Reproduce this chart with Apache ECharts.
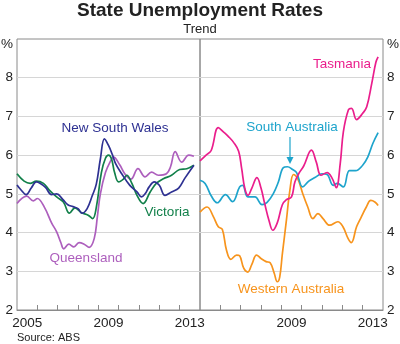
<!DOCTYPE html>
<html>
<head>
<meta charset="utf-8">
<script src="https://cdn.jsdelivr.net/npm/echarts@6/dist/echarts.min.js"></script>
<style>
  html, body { margin: 0; padding: 0; background: #fff; }
  #chart { width: 400px; height: 344px; }
</style>
</head>
<body>
<div id="chart"></div>
<script>
// State unemployment rates, trend, % (decimal years)
const leftLabelYears = [2005, 2009, 2013];
const rightLabelYears = [2009, 2013];
const yearTicks = [2006, 2007, 2008, 2009, 2010, 2011, 2012, 2013];

const nswData = [
  [2005.00, 5.23], [2005.20, 5.10], [2005.45, 4.98], [2005.70, 5.15], [2005.95, 5.31],
  [2006.15, 5.27], [2006.40, 5.17], [2006.70, 4.98], [2006.95, 5.00], [2007.25, 4.86],
  [2007.50, 4.72], [2007.75, 4.67], [2008.00, 4.62], [2008.20, 4.50], [2008.45, 4.62],
  [2008.70, 4.95], [2008.90, 5.25], [2009.10, 5.90], [2009.30, 6.42], [2009.50, 6.25],
  [2009.70, 6.00], [2009.85, 5.78], [2010.15, 5.52], [2010.55, 5.22], [2010.90, 5.05],
  [2011.12, 4.92], [2011.30, 5.00], [2011.50, 5.18], [2011.75, 5.31], [2012.00, 5.22],
  [2012.28, 4.96], [2012.60, 5.05], [2012.95, 5.15], [2013.25, 5.40], [2013.70, 5.74]
];
const vicData = [
  [2005.00, 5.52], [2005.35, 5.33], [2005.65, 5.27], [2005.95, 5.33], [2006.30, 5.27],
  [2006.60, 5.09], [2006.95, 4.92], [2007.28, 4.79], [2007.58, 4.50], [2007.85, 4.64],
  [2008.15, 4.52], [2008.50, 4.45], [2008.72, 4.36], [2008.90, 4.65], [2009.15, 5.55],
  [2009.35, 5.92], [2009.50, 6.00], [2009.65, 5.90], [2009.80, 5.55], [2010.00, 5.31],
  [2010.25, 5.39], [2010.40, 5.48], [2010.65, 5.27], [2010.90, 4.96], [2011.20, 4.75],
  [2011.55, 5.05], [2011.85, 5.27], [2012.20, 5.39], [2012.60, 5.48], [2013.00, 5.63],
  [2013.35, 5.65], [2013.70, 5.74]
];
const qldData = [
  [2005.00, 4.75], [2005.48, 4.94], [2005.80, 4.82], [2006.00, 4.88], [2006.35, 4.65],
  [2006.70, 4.25], [2006.95, 4.02], [2007.15, 3.75], [2007.30, 3.58], [2007.55, 3.70],
  [2007.80, 3.63], [2008.05, 3.74], [2008.30, 3.70], [2008.55, 3.62], [2008.80, 3.85],
  [2008.95, 4.40], [2009.10, 5.00], [2009.35, 5.55], [2009.60, 5.85], [2009.75, 5.95],
  [2010.05, 5.75], [2010.30, 5.52], [2010.60, 5.38], [2010.95, 5.65], [2011.30, 5.44],
  [2011.62, 5.56], [2011.95, 5.48], [2012.35, 5.52], [2012.55, 5.70], [2012.78, 6.09],
  [2013.10, 5.82], [2013.45, 6.00], [2013.70, 5.97]
];
const tasData = [
  [2005.00, 5.85], [2005.30, 6.00], [2005.55, 6.12], [2005.90, 6.71], [2006.15, 6.60],
  [2006.40, 6.48], [2006.65, 6.33], [2006.90, 6.10], [2007.05, 5.65], [2007.20, 5.15],
  [2007.36, 4.96], [2007.55, 5.15], [2007.80, 5.42], [2008.00, 5.15], [2008.18, 4.75],
  [2008.40, 4.30], [2008.58, 4.06], [2008.80, 4.25], [2009.05, 4.72], [2009.25, 4.85],
  [2009.50, 4.92], [2009.67, 5.31], [2009.90, 5.56], [2010.10, 5.72], [2010.48, 6.13],
  [2010.72, 5.82], [2010.95, 5.48], [2011.25, 5.55], [2011.50, 5.40], [2011.70, 5.16],
  [2011.90, 5.80], [2012.05, 6.60], [2012.30, 7.17], [2012.45, 7.21], [2012.70, 6.92],
  [2013.00, 7.08], [2013.20, 7.25], [2013.45, 7.86], [2013.65, 8.40], [2013.76, 8.54]
];
const saData = [
  [2005.00, 5.35], [2005.25, 5.27], [2005.55, 4.95], [2005.85, 4.77], [2006.25, 4.98],
  [2006.60, 4.80], [2006.95, 5.18], [2007.10, 5.22], [2007.35, 4.92], [2007.70, 4.92],
  [2008.05, 4.72], [2008.30, 4.78], [2008.60, 5.00], [2008.85, 5.30], [2009.10, 5.68],
  [2009.30, 5.70], [2009.55, 5.63], [2009.75, 5.55], [2010.05, 5.18], [2010.35, 5.33],
  [2010.65, 5.42], [2011.00, 5.52], [2011.25, 5.50], [2011.55, 5.22], [2011.75, 5.27],
  [2012.05, 5.18], [2012.35, 5.60], [2012.65, 5.60], [2013.00, 5.74], [2013.25, 5.95],
  [2013.50, 6.30], [2013.76, 6.58]
];
const waData = [
  [2005.00, 4.53], [2005.35, 4.66], [2005.65, 4.42], [2005.90, 4.15], [2006.10, 4.08],
  [2006.30, 3.55], [2006.52, 3.31], [2006.80, 3.42], [2006.95, 3.40], [2007.15, 3.08],
  [2007.35, 2.98], [2007.55, 3.18], [2007.78, 3.42], [2008.00, 3.33], [2008.25, 3.25],
  [2008.45, 3.22], [2008.65, 2.95], [2008.80, 2.73], [2008.92, 2.85], [2009.05, 3.45],
  [2009.25, 4.32], [2009.42, 5.09], [2009.60, 5.50], [2009.80, 5.40], [2010.05, 5.01],
  [2010.30, 4.66], [2010.55, 4.36], [2010.80, 4.49], [2011.05, 4.36], [2011.38, 4.19],
  [2011.78, 4.28], [2012.03, 4.15], [2012.28, 3.85], [2012.44, 3.74], [2012.70, 4.15],
  [2012.93, 4.40], [2013.18, 4.66], [2013.40, 4.83], [2013.60, 4.79], [2013.76, 4.70]
];

const FONT = 'Arial, "Liberation Sans", sans-serif';
const colors = {
  nsw: '#2e3192', vic: '#12804a', qld: '#ad5fbd',
  tas: '#ea1e8c', sa: '#1ea4cc', wa: '#f7941d'
};

function xAxisFor(gridIndex, labelYears) {
  return {
    type: 'value', gridIndex: gridIndex, min: 2005, max: 2014, interval: 1,
    axisLine: { show: true, lineStyle: { color: '#8a8a8a', width: 1 } },
    axisTick: { show: true, inside: true, length: 5, customValues: yearTicks,
      lineStyle: { color: '#8a8a8a' } },
    axisLabel: {
      customValues: labelYears.map(y => y + 0.5),
      formatter: v => String(Math.floor(v)),
      color: '#222', fontSize: 13.5, fontFamily: FONT, margin: 6
    },
    splitLine: { show: false }
  };
}

function yAxisFor(gridIndex, side) {
  return {
    type: 'value', gridIndex: gridIndex, position: side, min: 2, max: 9, interval: 1,
    axisLine: { show: false },
    axisTick: { show: false },
    axisLabel: {
      // top label is replaced by a "%" unit drawn a little lower
      formatter: v => (v === 9 ? '' : String(v)),
      color: '#222', fontSize: 13.5, fontFamily: FONT, margin: 4
    },
    splitLine: { show: true, showMinLine: false, showMaxLine: false,
      lineStyle: { color: '#d6d6d6', width: 1.2 } }
  };
}

function line(name, data, color, idx) {
  return {
    name: name, type: 'line', xAxisIndex: idx, yAxisIndex: idx,
    data: data, smooth: 0.4, showSymbol: false,
    lineStyle: { color: color, width: 1.7 }, z: 3
  };
}

const chart = echarts.init(document.getElementById('chart'), null, { renderer: 'canvas' });

const labels = [
  { text: 'New South Wales', x: 115, y: 128, color: colors.nsw },
  { text: 'Victoria', x: 167, y: 212, color: colors.vic },
  { text: 'Queensland', x: 86, y: 258, color: colors.qld },
  { text: 'Tasmania', x: 342, y: 64, color: colors.tas },
  { text: 'South Australia', x: 292, y: 127, color: colors.sa },
  { text: 'Western Australia', x: 291, y: 289, color: colors.wa },
  { text: '%', x: 7, y: 44, color: '#222' },
  { text: '%', x: 393, y: 44, color: '#222' }
];

chart.setOption({
  animation: false,
  backgroundColor: '#fff',
  title: [
    { text: 'State Unemployment Rates', left: 'center', top: 1, padding: 0,
      textStyle: { fontSize: 19, fontWeight: 'bold', color: '#222', fontFamily: FONT } },
    { text: 'Trend', left: 'center', top: 23, padding: 0,
      textStyle: { fontSize: 13, fontWeight: 'normal', color: '#222', fontFamily: FONT } },
    { text: 'Source: ABS', left: 17, top: 332, padding: 0,
      textStyle: { fontSize: 11, fontWeight: 'normal', color: '#222', fontFamily: FONT } }
  ],
  grid: [
    { left: 17, top: 39, width: 183, height: 271, show: true,
      borderColor: '#8a8a8a', borderWidth: 1, backgroundColor: 'transparent' },
    { left: 200, top: 39, width: 183, height: 271, show: true,
      borderColor: '#8a8a8a', borderWidth: 1, backgroundColor: 'transparent' }
  ],
  xAxis: [xAxisFor(0, leftLabelYears), xAxisFor(1, rightLabelYears)],
  yAxis: [yAxisFor(0, 'left'), yAxisFor(1, 'right')],
  series: [
    line('Queensland', qldData, colors.qld, 0),
    line('Victoria', vicData, colors.vic, 0),
    line('New South Wales', nswData, colors.nsw, 0),
    line('Western Australia', waData, colors.wa, 1),
    line('South Australia', saData, colors.sa, 1),
    line('Tasmania', tasData, colors.tas, 1)
  ],
  graphic: labels.map(l => ({
    type: 'text', x: l.x, y: l.y, z: 10,
    style: { text: l.text, fill: l.color, font: '13.5px ' + FONT,
      align: 'center', verticalAlign: 'middle' }
  })).concat([
    { type: 'line', z: 10, shape: { x1: 290, y1: 137, x2: 290, y2: 158 },
      style: { stroke: colors.sa, lineWidth: 1.2 } },
    { type: 'polygon', z: 10, shape: { points: [[286.5, 157], [293.5, 157], [290, 164]] },
      style: { fill: colors.sa } }
  ])
});
</script>
</body>
</html>
